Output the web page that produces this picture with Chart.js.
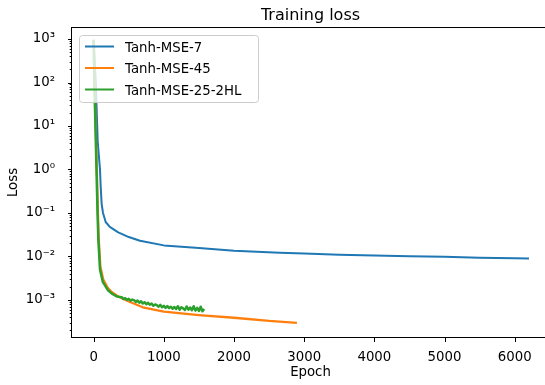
<!DOCTYPE html>
<html>
<head>
<meta charset="utf-8">
<script src="https://cdn.jsdelivr.net/npm/chart.js@4/dist/chart.umd.min.js"></script>
<style>
html,body{margin:0;padding:0;overflow:hidden;background:#fff}
</style>
</head>
<body>
<canvas id="chart" width="552" height="385"></canvas>
<script>
// values
const seriesNames=['Tanh-MSE-7','Tanh-MSE-45','Tanh-MSE-25-2HL'];
const seriesColors=['#1f77b4','#ff7f0e','#2ca02c'];

const epochs7=[0,30,57,90,100,114,133,171,230,350,500,660,1000,1500,2000,2650,3000,3500,4000,4500,5000,5500,6000,6190];
const loss7=[900,100,4.5,1,0.4,0.16,0.1,0.062,0.048,0.036,0.028,0.023,0.018,0.0157,0.0135,0.0122,0.0117,0.011,0.0105,0.0101,0.0098,0.0094,0.0091,0.009];

const epochs45=[0,12,28,45,60,72,95,135,200,260,350,500,700,1000,1500,2000,2500,2880];
const loss45=[900,100,10,1,0.1,0.025,0.006,0.003,0.0019,0.0015,0.0012,0.00092,0.00068,0.00054,0.00045,0.00039,0.00033,0.0003];

const epochs25=[0,10,25,40,55,66,90,130,200,260,330,
 400,425,450,475,500,525,550,575,600,625,650,675,700,725,750,775,800,825,850,875,900,925,950,975,
 1000,1025,1050,1075,1100,1125,1150,1175,1200,1225,1250,1275,1300,1325,1350,1375,1400,1425,1450,1475,1500,1525,1550,1565];
const loss25=[900,100,10,1,0.1,0.025,0.005,0.0026,0.0017,0.0014,0.0012,
 0.00116,0.00105,0.0011,0.00101,0.00107,0.00096,0.00102,0.00099,0.0009,0.00097,0.00087,0.00093,0.00083,0.00089,0.0008,0.00086,0.00078,0.00083,0.00074,0.00079,0.00076,0.0007,0.00077,0.00068,
 0.00073,0.00066,0.00072,0.00065,0.0007,0.00063,0.00069,0.00062,0.00072,0.0006,0.00068,0.00064,0.00059,0.00071,0.0006,0.00067,0.00058,0.00072,0.00057,0.00066,0.00056,0.0007,0.00055,0.00059];

const xTicks=[0,1000,2000,3000,4000,5000,6000];
const yDecades=[-3,-2,-1,0,1,2,3];
const xMin=-309, xMax=6489;
const yMin=Math.pow(10,-3.874), yMax=Math.pow(10,3.276);

const FONT='"DejaVu Sans", sans-serif';
const sup={'-':'\u207b','0':'\u2070','1':'\u00b9','2':'\u00b2','3':'\u00b3'};
function decadeLabel(e){return '10'+String(e).split('').map(c=>sup[c]).join('')}

function pts(ex,ly){return ex.map((e,i)=>({x:e,y:ly[i]}))}

const frame={
 id:'frame',
 afterDatasetsDraw(chart){
  const {ctx,chartArea:a,scales}=chart;
  ctx.save();
  ctx.strokeStyle='#000';ctx.lineWidth=1;
  ctx.strokeRect(Math.round(a.left)-0.5,Math.round(a.top)+0.5,Math.round(a.right-a.left)+1,Math.round(a.bottom-a.top)-1);
  ctx.beginPath();
  xTicks.forEach(v=>{const x=Math.round(scales.x.getPixelForValue(v))+0.5;ctx.moveTo(x,a.bottom);ctx.lineTo(x,a.bottom+4)});
  scales.y.ticks.forEach(t=>{
   const y=Math.round(scales.y.getPixelForValue(t.value))+0.5;
   const major=Math.abs(Math.log10(t.value)-Math.round(Math.log10(t.value)))<1e-9;
   ctx.moveTo(a.left,y);ctx.lineTo(a.left-(major?4:2.3),y);
  });
  ctx.stroke();
  // title
  ctx.fillStyle='#000';ctx.font='16px '+FONT;ctx.textAlign='center';ctx.textBaseline='alphabetic';
  ctx.fillText('Training loss',(a.left+a.right)/2,20);
  // legend
  const lx=a.left+7,ly=a.top+8,w=179,h=67,r=3;
  ctx.beginPath();ctx.roundRect(lx+0.5,ly+0.5,w,h,r);
  ctx.fillStyle='rgba(255,255,255,0.8)';ctx.fill();
  ctx.strokeStyle='#cccccc';ctx.stroke();
  ctx.font='13.3px '+FONT;ctx.textAlign='left';
  chart.data.datasets.forEach((d,i)=>{
   const yy=ly+11.5+i*21.5;
   ctx.strokeStyle=d.borderColor;ctx.lineWidth=2;
   ctx.beginPath();ctx.moveTo(lx+6,yy);ctx.lineTo(lx+35,yy);ctx.stroke();
   ctx.fillStyle='#000';ctx.fillText(d.label,lx+46,yy+5);
  });
  ctx.restore();
 }
};

new Chart(document.getElementById('chart'),{
 type:'line',
 data:{datasets:[
  {label:seriesNames[0],data:pts(epochs7,loss7),borderColor:seriesColors[0],order:2},
  {label:seriesNames[1],data:pts(epochs45,loss45),borderColor:seriesColors[1],order:1,borderWidth:2.3},
  {label:seriesNames[2],data:pts(epochs25,loss25),borderColor:seriesColors[2],order:0,borderWidth:2.5}
 ]},
 options:{
  responsive:false,animation:false,
  layout:{padding:{top:27,right:3,left:0,bottom:0}},
  elements:{point:{radius:0},line:{borderWidth:2,tension:0,borderJoinStyle:'round',borderCapStyle:'square'}},
  plugins:{legend:{display:false},title:{display:false},tooltip:{enabled:false}},
  scales:{
   x:{type:'linear',min:xMin,max:xMax,
    afterBuildTicks:s=>{s.ticks=xTicks.map(v=>({value:v}))},
    afterFit:s=>{s.height=47},
    grid:{display:false},border:{display:false},
    ticks:{padding:3.5,color:'#000',font:{family:FONT,size:13.3},maxRotation:0,autoSkip:false,callback:v=>String(v)},
    title:{display:true,text:'Epoch',color:'#000',font:{family:FONT,size:13.3},padding:{top:4,bottom:4}}
   },
   y:{type:'logarithmic',min:yMin,max:yMax,
    afterBuildTicks:s=>{
     const t=[];
     for(let e=-4;e<=3;e++)for(let m=1;m<=9;m++){const v=m*Math.pow(10,e);if(v>=yMin&&v<=yMax)t.push({value:v})}
     s.ticks=t;
    },
    afterFit:s=>{s.width=72},
    grid:{display:false},border:{display:false},
    ticks:{padding:9,color:'#000',font:{family:FONT,size:13.3},autoSkip:false,
     callback:v=>{const e=Math.round(Math.log10(v));return (yDecades.includes(e)&&Math.abs(Math.log10(v)-e)<1e-9)?decadeLabel(e):''}},
    title:{display:true,text:'Loss',color:'#000',font:{family:FONT,size:13.3},padding:{top:6,bottom:4}}
   }
  }
 },
 plugins:[frame]
});
</script>
</body>
</html>
